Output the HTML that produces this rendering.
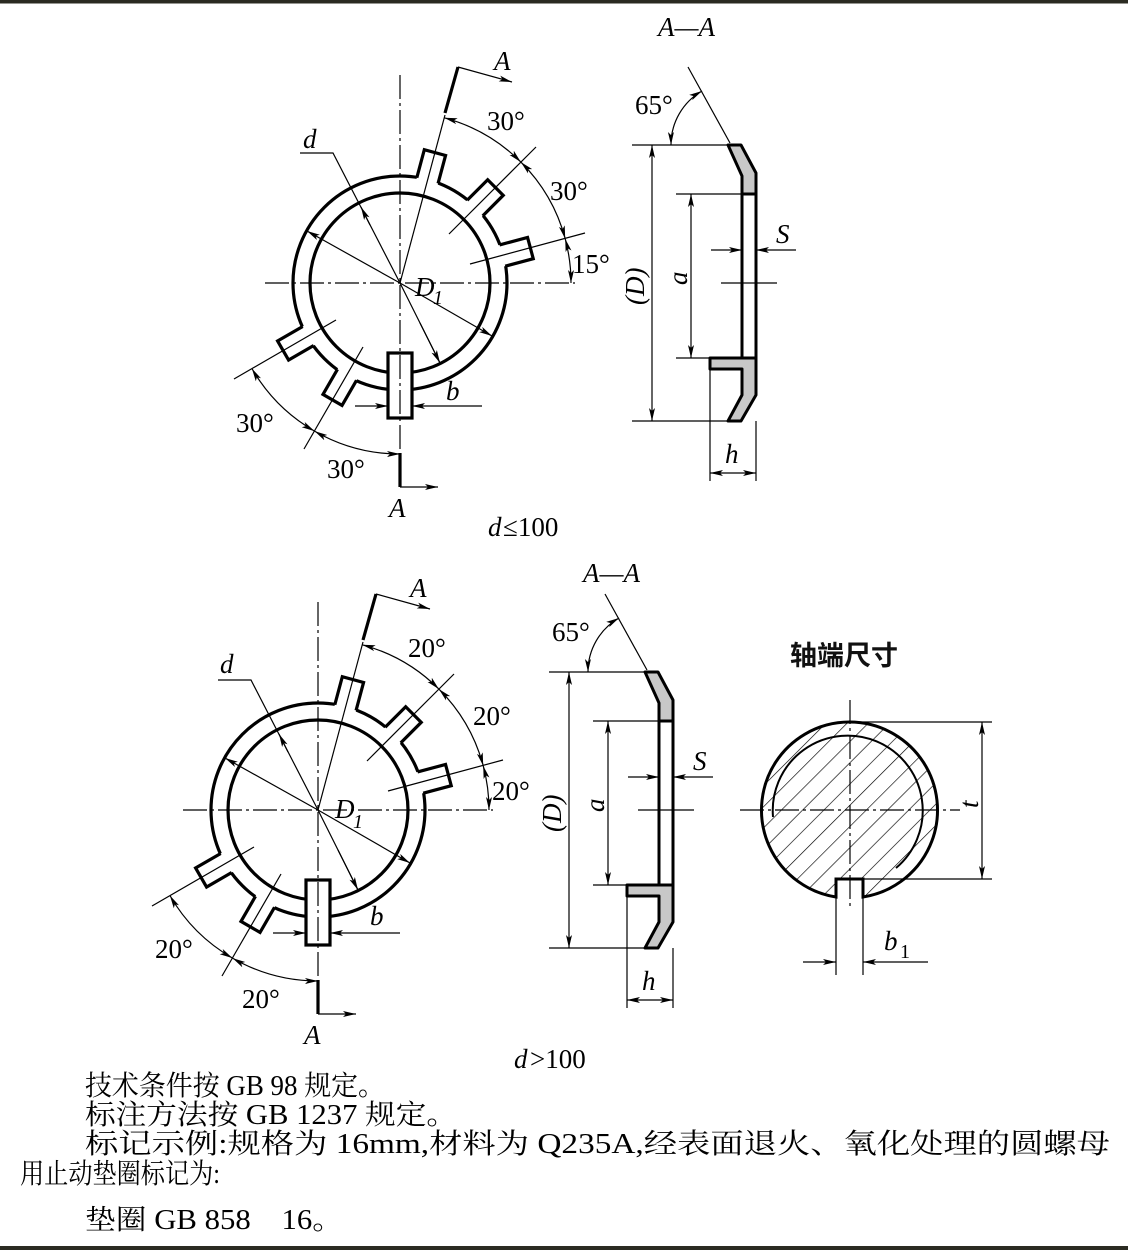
<!DOCTYPE html>
<html><head><meta charset="utf-8"><style>
html,body{margin:0;padding:0;background:#fff}
svg{display:block}
.t{font-family:"Liberation Serif",serif;font-style:italic;font-size:27px;fill:#000}
.c{font-family:"Liberation Serif","Noto Serif CJK SC",serif;font-size:28px;fill:#000}
</style></head><body>
<svg width="1128" height="1250" viewBox="0 0 1128 1250" xmlns="http://www.w3.org/2000/svg">
<defs>
<marker id="ar" markerUnits="userSpaceOnUse" markerWidth="14" markerHeight="8" refX="13" refY="4" orient="auto-start-reverse"><path d="M0,1 L13,4 L0,7 L3,4 z" fill="#000"/></marker>
<pattern id="hatch" patternUnits="userSpaceOnUse" width="15" height="15" patternTransform="rotate(-45)"><line x1="0" y1="0" x2="15" y2="0" stroke="#000" stroke-width="1.3"/></pattern>
<g id="ring" fill="none" stroke="#000">
  <circle r="107" stroke-width="3.2"/>
  <circle r="90" stroke-width="3.2"/>
  <g transform="rotate(-75)"><rect x="100" y="-11" width="35" height="22" fill="#fff" stroke="none"/><polyline points="106,-11 135,-11 135,11 106,11" stroke-width="3.2"/></g>
  <g transform="rotate(-45)"><rect x="100" y="-11" width="35" height="22" fill="#fff" stroke="none"/><polyline points="106,-11 135,-11 135,11 106,11" stroke-width="3.2"/></g>
  <g transform="rotate(-15)"><rect x="100" y="-11" width="35" height="22" fill="#fff" stroke="none"/><polyline points="106,-11 135,-11 135,11 106,11" stroke-width="3.2"/></g>
  <g transform="rotate(150)"><rect x="100" y="-11" width="35" height="22" fill="#fff" stroke="none"/><polyline points="106,-11 135,-11 135,11 106,11" stroke-width="3.2"/></g>
  <g transform="rotate(120)"><rect x="100" y="-11" width="35" height="22" fill="#fff" stroke="none"/><polyline points="106,-11 135,-11 135,11 106,11" stroke-width="3.2"/></g>
  <rect x="-12" y="70" width="24" height="65" fill="#fff" stroke-width="3.2"/>
  <line x1="0" y1="-208" x2="0" y2="170" stroke-width="1.2" stroke-dasharray="24 4 3 4"/>
  <line x1="-135" y1="0" x2="175" y2="0" stroke-width="1.2" stroke-dasharray="24 4 3 4"/>
  <g stroke-width="1.2">
    <line x1="49" y1="-49" x2="136" y2="-136"/>
    <line x1="70" y1="-19" x2="185" y2="-50"/>
    <line x1="-64" y1="37" x2="-166" y2="96"/>
    <line x1="-37" y1="64" x2="-96" y2="166"/>
    <line x1="0" y1="0" x2="45" y2="-168"/>
    <path d="M44.3,-165.2 A171,171 0 0 1 120.9,-120.9" marker-start="url(#ar)" marker-end="url(#ar)"/>
    <path d="M120.9,-120.9 A171,171 0 0 1 165.2,-44.3" marker-start="url(#ar)" marker-end="url(#ar)"/>
    <path d="M165.2,-44.3 A171,171 0 0 1 171,0" marker-start="url(#ar)" marker-end="url(#ar)"/>
    <path d="M-148.1,85.5 A171,171 0 0 0 -85.5,148.1" marker-start="url(#ar)" marker-end="url(#ar)"/>
    <path d="M-85.5,148.1 A171,171 0 0 0 0,171" marker-start="url(#ar)" marker-end="url(#ar)"/>
    <polyline points="-100,-130 -67,-130 -0,0 40,80" />
    <line x1="-30" y1="-58" x2="-39" y2="-76" marker-end="url(#ar)"/>
    <line x1="20" y1="40" x2="40" y2="80" marker-end="url(#ar)"/>
    <line x1="0" y1="0" x2="-93" y2="-52" marker-end="url(#ar)"/>
    <line x1="0" y1="0" x2="92" y2="53" marker-end="url(#ar)"/>
    <line x1="-45" y1="123" x2="-12" y2="123" marker-end="url(#ar)"/>
    <line x1="82" y1="123" x2="12" y2="123" marker-end="url(#ar)"/>
  </g>
  <polyline points="45,-170 58,-216" stroke-width="3.2"/>
  <line x1="58" y1="-216" x2="112" y2="-201" stroke-width="1.2" marker-end="url(#ar)"/>
  <polyline points="0,170 0,204" stroke-width="3.2"/>
  <line x1="0" y1="204" x2="38" y2="204" stroke-width="1.2" marker-end="url(#ar)"/>
</g>
<g id="sec">
  <polygon points="645,672 658,672 673,700 673,721 659,721 659,703" fill="#c8c8c8" stroke="#000" stroke-width="3" stroke-linejoin="round"/>
  <rect x="659" y="721" width="14" height="164" fill="#fff" stroke="#000" stroke-width="3"/>
  <polygon points="627,885 673,885 673,922 658,948 645,948 659,922 659,896 627,896" fill="#c8c8c8" stroke="#000" stroke-width="3" stroke-linejoin="round"/>
  <g stroke="#000" stroke-width="1.2" fill="none">
    <line x1="549" y1="672" x2="645" y2="672"/>
    <line x1="549" y1="948" x2="645" y2="948"/>
    <line x1="569" y1="810" x2="569" y2="672" marker-end="url(#ar)"/>
    <line x1="569" y1="810" x2="569" y2="948" marker-end="url(#ar)"/>
    <line x1="593" y1="721" x2="659" y2="721"/>
    <line x1="593" y1="885" x2="627" y2="885"/>
    <line x1="608" y1="800" x2="608" y2="721" marker-end="url(#ar)"/>
    <line x1="608" y1="800" x2="608" y2="885" marker-end="url(#ar)"/>
    <line x1="628" y1="777" x2="659" y2="777" marker-end="url(#ar)"/>
    <line x1="713" y1="777" x2="673" y2="777" marker-end="url(#ar)"/>
    <line x1="638" y1="810" x2="694" y2="810"/>
    <line x1="627" y1="896" x2="627" y2="1008"/>
    <line x1="673" y1="948" x2="673" y2="1008"/>
    <line x1="650" y1="1000" x2="627" y2="1000" marker-end="url(#ar)"/>
    <line x1="650" y1="1000" x2="673" y2="1000" marker-end="url(#ar)"/>
    <line x1="605" y1="594" x2="647" y2="670"/>
    <path d="M619,618 A62,62 0 0 0 588,672" marker-start="url(#ar)" marker-end="url(#ar)"/>
  </g>
  <text class="t" x="0" y="0" transform="translate(561,832) rotate(-90)">(D)</text>
  <text class="t" x="0" y="0" transform="translate(604,812) rotate(-90)">a</text>
  <text class="t" x="693" y="770">S</text>
  <text class="t" x="642" y="990">h</text>
  <text class="t" x="552" y="641" style="font-style:normal">65°</text>
</g>
</defs>
<rect x="0" y="0" width="1128" height="3.5" fill="#2b2b22"/>
<rect x="0" y="1246" width="1128" height="4" fill="#2b2b22"/>

<use href="#ring" transform="translate(400,283)"/>
<use href="#ring" transform="translate(318,810)"/>
<use href="#sec" transform="translate(83,-527)"/>
<use href="#sec"/>

<g class="t">
<text x="303" y="148">d</text>
<text x="415" y="296">D</text><text x="433" y="304" style="font-size:20px">1</text>
<text x="446" y="400">b</text>
<text x="487" y="130" style="font-style:normal">30°</text>
<text x="550" y="200" style="font-style:normal">30°</text>
<text x="572" y="273" style="font-style:normal">15°</text>
<text x="236" y="432" style="font-style:normal">30°</text>
<text x="327" y="478" style="font-style:normal">30°</text>
<text x="494" y="70">A</text>
<text x="389" y="517">A</text>
<text x="658" y="36">A—A</text>
<text x="488" y="536">d</text><text x="503" y="536" style="font-style:normal">≤100</text>
</g>
<g class="t">
<text x="220" y="673">d</text>
<text x="335" y="818">D</text><text x="353" y="828" style="font-size:20px">1</text>
<text x="370" y="925">b</text>
<text x="408" y="657" style="font-style:normal">20°</text>
<text x="473" y="725" style="font-style:normal">20°</text>
<text x="492" y="800" style="font-style:normal">20°</text>
<text x="155" y="958" style="font-style:normal">20°</text>
<text x="242" y="1008" style="font-style:normal">20°</text>
<text x="410" y="597">A</text>
<text x="304" y="1044">A</text>
<text x="583" y="582">A—A</text>
<text x="514" y="1068">d</text><text x="530" y="1068" style="font-style:normal">&gt;100</text>
</g>

<text x="790" y="665" style="font-family:'Noto Sans CJK SC',sans-serif;font-size:27px;font-weight:bold" fill="#111">轴端尺寸</text>
<path d="M836,897 A88,88 0 1 1 863,897 L863,879 L836,879 Z" fill="url(#hatch)" stroke="#000" stroke-width="3"/>
<path d="M773,817 A75,75 0 1 1 896,868" fill="none" stroke="#000" stroke-width="2"/>
<g stroke="#000" stroke-width="1.2" fill="none">
  <line x1="740" y1="810" x2="960" y2="810" stroke-dasharray="24 4 3 4"/>
  <line x1="850" y1="700" x2="850" y2="910" stroke-dasharray="24 4 3 4"/>
  <line x1="850" y1="722" x2="992" y2="722"/>
  <line x1="863" y1="879" x2="992" y2="879"/>
  <line x1="982" y1="800" x2="982" y2="722" marker-end="url(#ar)"/>
  <line x1="982" y1="800" x2="982" y2="879" marker-end="url(#ar)"/>
  <line x1="836" y1="897" x2="836" y2="975"/>
  <line x1="863" y1="897" x2="863" y2="975"/>
  <line x1="803" y1="962" x2="836" y2="962" marker-end="url(#ar)"/>
  <line x1="928" y1="962" x2="863" y2="962" marker-end="url(#ar)"/>
</g>
<text class="t" transform="translate(978,808) rotate(-90)">t</text>
<text class="t" x="884" y="950">b</text><text class="t" x="900" y="958" style="font-size:20px;font-style:normal">1</text>

<text class="c" x="85" y="1095" textLength="300" lengthAdjust="spacingAndGlyphs">技术条件按 GB 98 规定。</text>
<text class="c" x="85" y="1124" textLength="372" lengthAdjust="spacingAndGlyphs">标注方法按 GB 1237 规定。</text>
<text class="c" x="85" y="1153" textLength="1025" lengthAdjust="spacingAndGlyphs">标记示例:规格为 16mm,材料为 Q235A,经表面退火、氧化处理的圆螺母</text>
<text class="c" x="20" y="1183" textLength="200" lengthAdjust="spacingAndGlyphs">用止动垫圈标记为:</text>
<text class="c" x="85" y="1229" textLength="258" lengthAdjust="spacingAndGlyphs">垫圈 GB 858　16。</text>
</svg>
</body></html>
